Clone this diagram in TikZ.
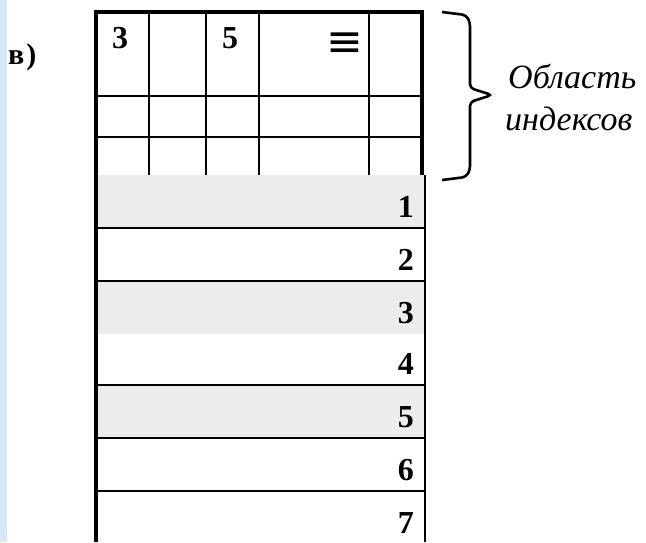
\documentclass[tikz,border=0pt]{standalone}
\usepackage{fontspec}
\setmainfont{Liberation Serif}
\newfontfamily\symfont{DejaVu Sans}
\usetikzlibrary{positioning}
\definecolor{rowgrey}{RGB}{236,236,236}
\definecolor{edgeblue}{RGB}{217,230,247}

\begin{document}
\begin{tikzpicture}[
  x=1pt, y=-1pt,
  rule/.style={line width=1.6pt},
  frame/.style={line width=3.2pt},
  bracepath/.style={line width=2.6pt, rounded corners=4pt},
  num/.style={font=\fontsize{32}{32}\selectfont\bfseries, inner sep=0pt},
  note/.style={font=\fontsize{34}{34}\selectfont\itshape, inner sep=0pt, anchor=base west},
  tag/.style={font=\fontsize{30}{30}\selectfont\bfseries, inner sep=0pt, anchor=base west}
]
\useasboundingbox (0,0) rectangle (646,542);

% ---------------- page edge ----------------
\fill[edgeblue] (0,0) rectangle (7,542);

% ---------------- record rows ----------------
\foreach \y/\fillc in {175/rowgrey, 228/white, 281/rowgrey, 334/white, 385/rowgrey, 438/white, 491/white}
  \fill[\fillc] (96,\y) rectangle (425,\y+53);
\foreach \y in {228, 281, 385, 438, 491}
  \draw[rule] (96,\y) -- (425,\y);
\foreach \n/\y in {1/217, 2/270, 3/323, 4/374, 5/427, 6/480, 7/533}
  \node[num, anchor=base east] (row\n) at (414,\y) {\n};

% ---------------- index area ----------------
\foreach \y in {96, 137}
  \draw[rule] (96,\y) -- (422,\y);
\foreach \x in {149, 206, 259, 369}
  \draw[rule] (\x,12) -- (\x,175);
\node[num, anchor=base west] (idxA) at (112,48) {3};
\node[num, anchor=base west] (idxB) at (222,48) {5};
\node[font=\fontsize{44}{44}\selectfont\symfont, inner sep=0pt] (idxC) at (345,45) {≡};

% ---------------- frame ----------------
\draw[frame] (96,542) -- (96,12) -- (422,12) -- (422,175);
\draw[rule] (425,175) -- (425,542);
\draw[line width=2.4pt] (96,12) -- (96,542);

% ---------------- brace and label ----------------
\coordinate (braceTop) at (442,12);
\coordinate (braceTip) at (492,95);
\coordinate (braceBot) at (442,180);
\draw[bracepath] (braceTop) -- (466,15) -- (470,22) -- (470,88) -- (braceTip)
  -- (470,102) -- (470,170) -- (466,177) -- (braceBot);
\node[note] (areaA) at (508,88) {Область};
\node[note] (areaB) at (505,130) {индексов};

\node[tag] (part) at (8,64) {в\kern2pt)};
\end{tikzpicture}
\end{document}
